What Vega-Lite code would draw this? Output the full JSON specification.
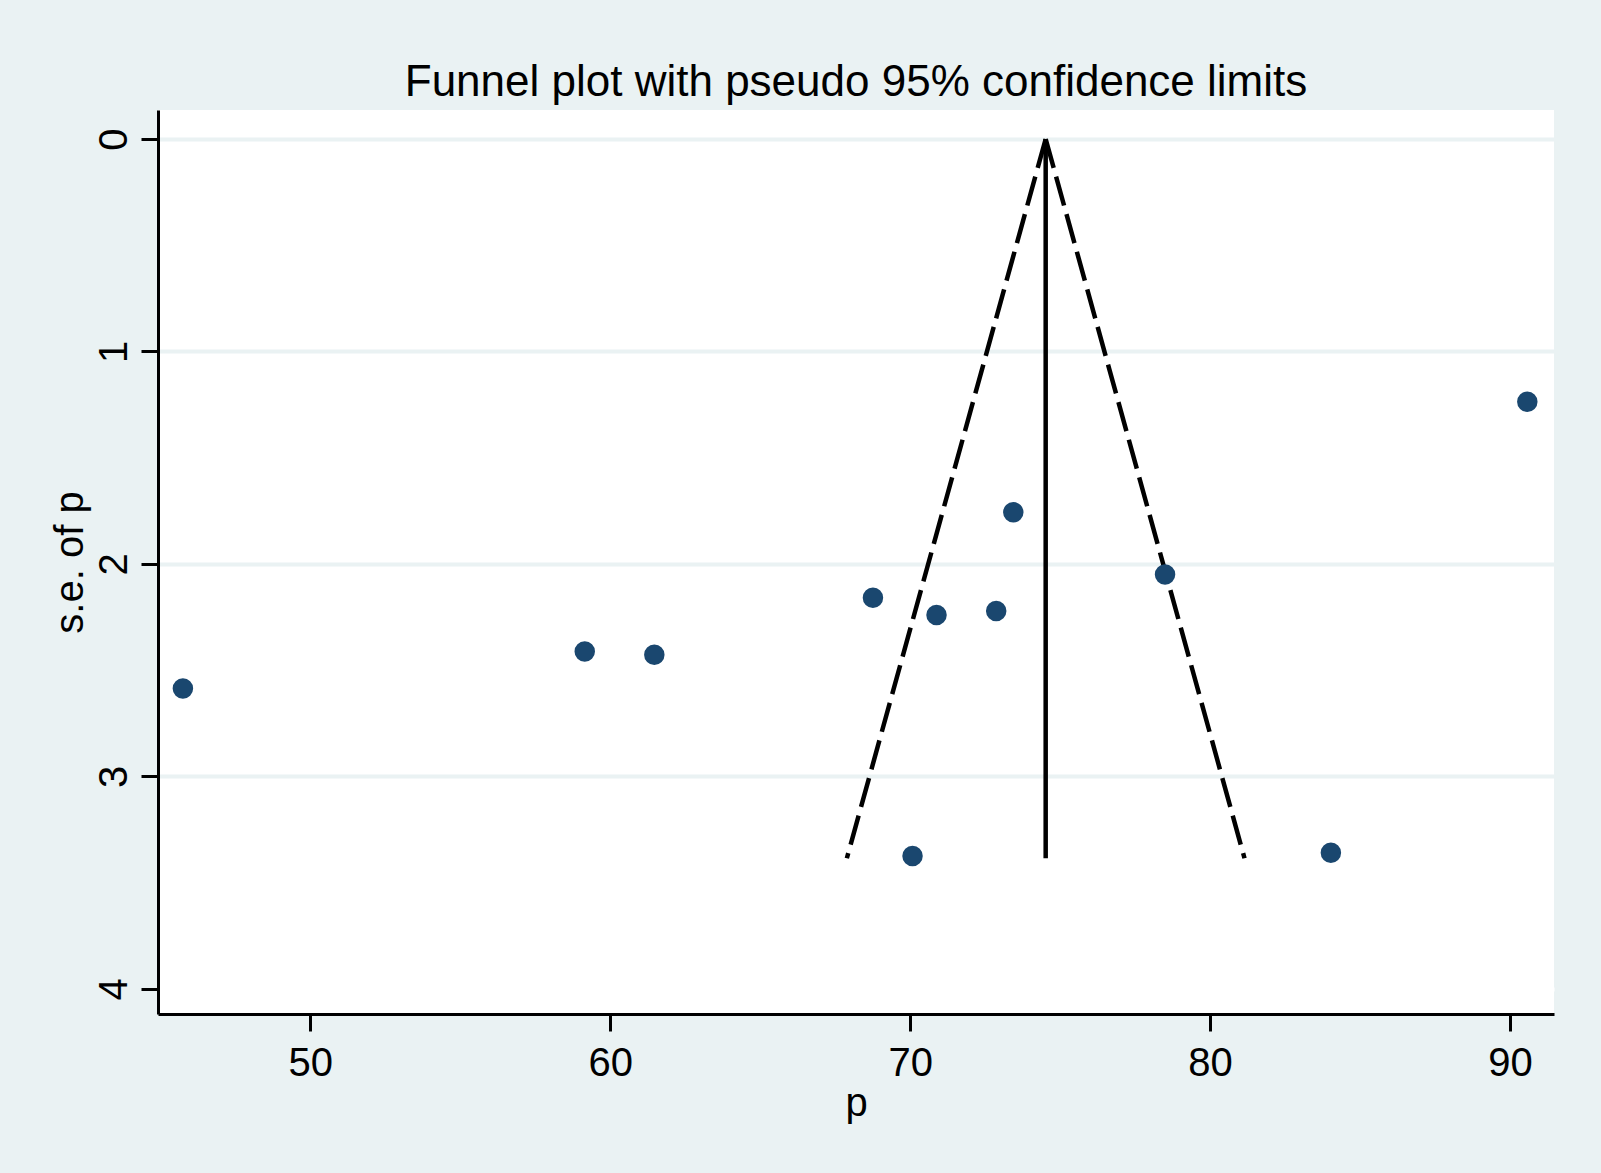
{
  "$schema": "https://vega.github.io/schema/vega-lite/v6.json",
  "width": 1396,
  "height": 904,
  "autosize": {"type": "none"},
  "padding": {"left": 158, "top": 110, "right": 47, "bottom": 159},
  "background": "#EAF2F3",
  "config": {
    "view": {"fill": "white", "stroke": null},
    "font": "Liberation Sans"
  },
  "title": {
    "text": "Funnel plot with pseudo 95% confidence limits",
    "fontSize": 44,
    "fontWeight": "normal",
    "color": "black",
    "font": "Liberation Sans",
    "anchor": "middle",
    "frame": "group",
    "baseline": "alphabetic",
    "offset": -30
  },
  "datasets": {
    "studies": [
      {"p": 45.75, "se": 2.586},
      {"p": 59.15, "se": 2.412},
      {"p": 61.47, "se": 2.427},
      {"p": 68.76, "se": 2.159},
      {"p": 70.88, "se": 2.240},
      {"p": 72.87, "se": 2.221},
      {"p": 73.44, "se": 1.757},
      {"p": 78.50, "se": 2.049},
      {"p": 70.08, "se": 3.374},
      {"p": 84.03, "se": 3.359},
      {"p": 90.58, "se": 1.236}
    ],
    "funnel": [
      {"kind": "lower limit", "p0": 74.52, "se0": 0, "p1": 67.89, "se1": 3.385},
      {"kind": "upper limit", "p0": 74.52, "se0": 0, "p1": 81.15, "se1": 3.385},
      {"kind": "pooled", "p0": 74.52, "se0": 0, "p1": 74.52, "se1": 3.385}
    ]
  },
  "layer": [
    {
      "data": {"name": "funnel"},
      "mark": {"type": "rule", "strokeWidth": 4.5, "color": "black", "strokeCap": "butt"},
      "encoding": {
        "x": {
          "field": "p0", "type": "quantitative",
          "scale": {"domain": [44.92, 91.47], "nice": false, "zero": false}
        },
        "y": {
          "field": "se0", "type": "quantitative",
          "scale": {"domain": [-0.1365, 4.118], "nice": false, "zero": false, "reverse": true}
        },
        "x2": {"field": "p1"},
        "y2": {"field": "se1"},
        "strokeDash": {
          "field": "kind", "type": "nominal",
          "scale": {"domain": ["lower limit", "upper limit", "pooled"], "range": [[30, 9], [30, 9], [1, 0]]},
          "legend": null
        }
      }
    },
    {
      "data": {"name": "studies"},
      "mark": {"type": "circle", "size": 420, "color": "#1a476f", "opacity": 1},
      "encoding": {
        "x": {
          "field": "p", "type": "quantitative",
          "scale": {"domain": [44.92, 91.47], "nice": false, "zero": false},
          "axis": {
            "title": "p",
            "values": [50, 60, 70, 80, 90],
            "format": "d",
            "grid": false,
            "domainColor": "black",
            "domainWidth": 3,
            "tickColor": "black",
            "tickWidth": 3,
            "tickSize": 17,
            "labelFontSize": 40,
            "labelColor": "black",
            "labelPadding": 12,
            "labelFont": "Liberation Sans",
            "titleFontSize": 40,
            "titleFontWeight": "normal",
            "titleColor": "black",
            "titleFont": "Liberation Sans",
            "titlePadding": 0
          }
        },
        "y": {
          "field": "se", "type": "quantitative",
          "scale": {"domain": [-0.1365, 4.118], "nice": false, "zero": false, "reverse": true},
          "axis": {
            "title": "s.e. of p",
            "values": [0, 1, 2, 3, 4],
            "format": "d",
            "grid": true,
            "gridColor": {"condition": {"test": "datum.value >= 4", "value": "white"}, "value": "#EAF2F3"},
            "gridWidth": 4,
            "domainColor": "black",
            "domainWidth": 3,
            "tickColor": "black",
            "tickWidth": 3,
            "tickSize": 17,
            "labelFontSize": 40,
            "labelColor": "black",
            "labelAngle": -90,
            "labelAlign": "center",
            "labelBaseline": "alphabetic",
            "labelPadding": 15,
            "labelFont": "Liberation Sans",
            "titleFontSize": 40,
            "titleFontWeight": "normal",
            "titleColor": "black",
            "titleFont": "Liberation Sans",
            "titleAngle": -90,
            "titleBaseline": "alphabetic",
            "titlePadding": 12
          }
        }
      }
    }
  ]
}
